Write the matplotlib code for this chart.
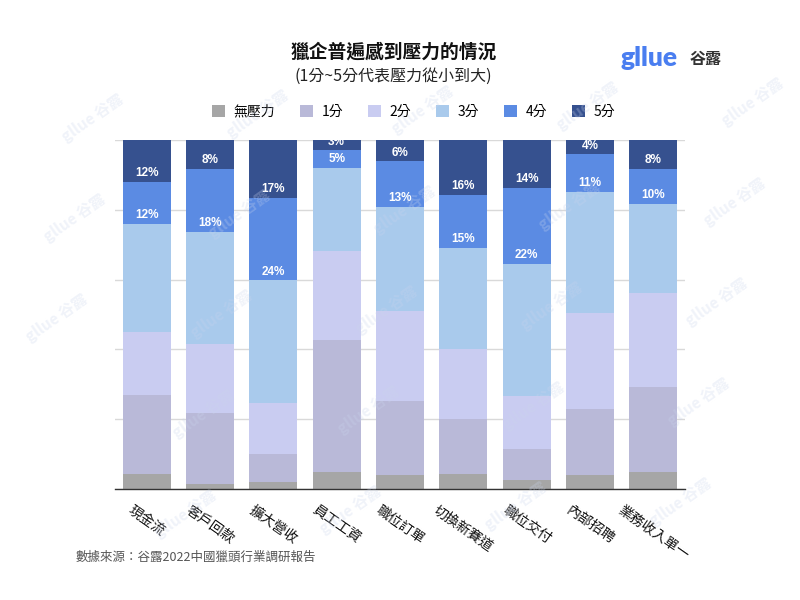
import matplotlib
matplotlib.use("Agg")
import matplotlib.pyplot as plt
from matplotlib.patches import Patch
import numpy as np

plt.rcParams['font.family'] = ['Noto Sans CJK TC', 'DejaVu Sans']

# data (percent of respondents)
categories = ["現金流", "客戶回款", "擴大營收", "員工工資", "職位訂單",
              "切換新賽道", "職位交付", "內部招聘", "業務收入單一"]
series_names = ["無壓力", "1分", "2分", "3分", "4分", "5分"]
no_pressure = [4.4, 1.5, 1.9, 4.8, 4.1, 4.4, 2.5, 3.9, 4.8]
score_1 = [22.6, 20.3, 8.2, 37.8, 21.2, 15.6, 9.1, 19.1, 24.5]
score_2 = [18.1, 19.7, 14.5, 25.7, 25.6, 20.2, 15.0, 27.3, 27.0]
score_3 = [30.8, 32.2, 35.2, 23.7, 30.0, 28.8, 37.9, 34.9, 25.5]
score_4 = [12.1, 18.1, 23.6, 5.0, 13.0, 15.2, 21.7, 10.7, 10.0]
score_5 = [12.0, 8.2, 16.6, 3.0, 6.1, 15.8, 13.8, 4.1, 8.2]

colors = ["#a6a6a6", "#b9b9d8", "#c9ccf1", "#a9caec", "#5b8be3", "#36518f"]

series = [no_pressure, score_1, score_2, score_3, score_4, score_5]

fig = plt.figure(figsize=(8, 6), dpi=100)
ax = fig.add_axes([0.14375, 0.185, 0.7125, 0.5817])

x = np.arange(len(categories))
bottom = np.zeros(len(categories))
for i, (name, vals) in enumerate(zip(series_names, series)):
    vals = np.array(vals)
    ax.bar(x, vals, width=0.763, bottom=bottom, color=colors[i], zorder=2, label=name)
    # value labels only for 4分 and 5分
    if i >= 4:
        for xi, b, v in zip(x, bottom, vals):
            ax.annotate(f"{v:.0f}%", xy=(xi, b), xytext=(0, 6.3), textcoords="offset points",
                        ha="center", va="center", color="white", fontsize=8.5,
                        fontweight="bold", family=["Liberation Sans", "DejaVu Sans"],
                        zorder=3, annotation_clip=False, clip_on=True)
    bottom += vals

ax.set_xlim(-0.5, len(categories) - 0.5)
ax.set_ylim(0, 100)
ax.set_yticks([0, 20, 40, 60, 80, 100])
ax.yaxis.grid(True, color="#d9d9d9", linewidth=1, zorder=0)
ax.tick_params(axis="y", left=False, labelleft=False)
ax.tick_params(axis="x", length=0, pad=10)
ax.set_xticks(x)
ax.set_xticklabels(categories, rotation=-35, ha="center", va="top", fontsize=10, color="#111111")
for s in ["top", "left", "right"]:
    ax.spines[s].set_visible(False)
ax.spines["bottom"].set_color("#333333")
ax.spines["bottom"].set_linewidth(1)
ax.spines["bottom"].set_zorder(4)

# titles
fig.text(0.492, 0.913, "獵企普遍感到壓力的情況", ha="center", va="center",
         fontsize=13.5, fontweight="bold", color="#111111")
fig.text(0.492, 0.873, "(1分~5分代表壓力從小到大)", ha="center", va="center",
         fontsize=11.5, color="#222222")

# legend
handles = [Patch(facecolor=c, edgecolor="none") for c in colors]
fig.legend(handles, series_names, loc="center", bbox_to_anchor=(0.517, 0.814), ncol=6,
           frameon=False, fontsize=10, handlelength=0.95, handleheight=0.95,
           handletextpad=0.6, columnspacing=1.8)

# logo
fig.text(0.776, 0.903, "gllue", ha="left", va="center", fontsize=19, fontweight="heavy",
         color="#4a7ef0", family=["Lato", "DejaVu Sans"])
fig.text(0.862, 0.901, "谷露", ha="left", va="center", fontsize=11.5, fontweight="bold",
         color="#333333")

# source
fig.text(0.094, 0.071, "數據來源：谷露2022中國獵頭行業調研報告", ha="left", va="center",
         fontsize=9, color="#555555")

# watermark
for r in range(-2, 9):
    for c in range(-1, 6):
        px = 57 + 165 * c - 18 * (r - 3)
        py = 318 - 4 * c + 100 * (r - 3)
        if 45 < px < 755 and 30 < py < 575:
            fig.text(px / 800, 1 - py / 600, "gllue 谷露", ha="center", va="center",
                     fontsize=11, rotation=35, color="#c9d4ec", alpha=0.28,
                     fontweight="bold", zorder=10)

fig.savefig("out.png", dpi=100)
